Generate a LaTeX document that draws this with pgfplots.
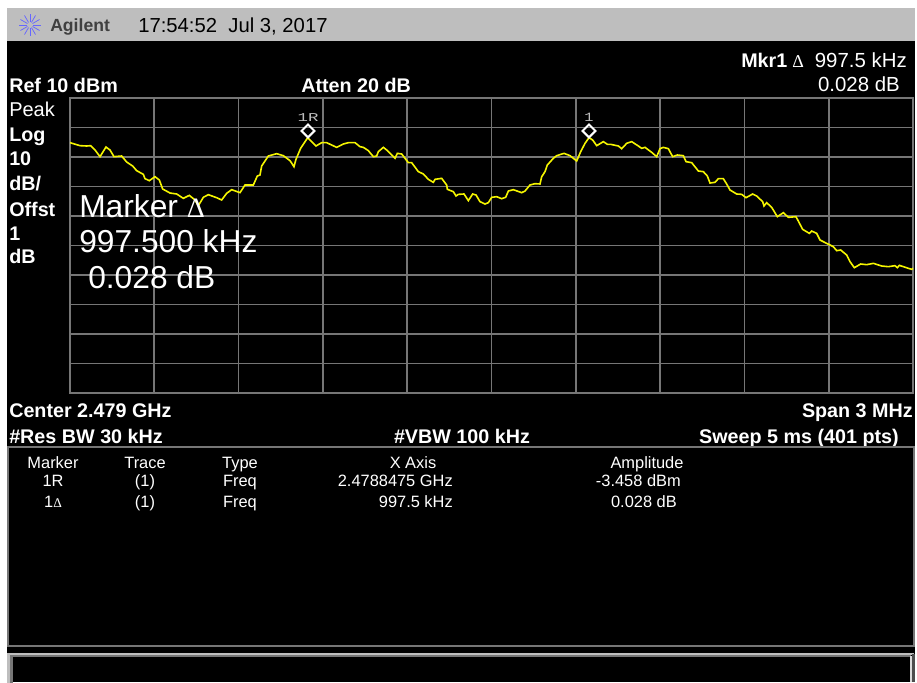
\documentclass[border=0pt]{standalone}
\usepackage{fontspec}
\setmainfont{Liberation Sans}
\newfontfamily\monof{Liberation Mono}
\newfontfamily\serf{Liberation Serif}
\usepackage{pgfplots}
\pgfplotsset{compat=1.18}
\usepackage{pgfplotstable}
\definecolor{gridc}{RGB}{118,118,118}
\definecolor{barc}{RGB}{190,190,190}
\definecolor{trc}{RGB}{245,245,0}
\pgfplotstableread{
f v
0.0000 -5.14
0.0356 -6.16
0.0593 -6.27
0.0735 -6.16
0.0890 -7.63
0.1068 -9.89
0.1281 -6.61
0.1423 -7.63
0.1566 -9.89
0.1838 -9.66
0.2016 -11.70
0.2230 -13.05
0.2372 -14.63
0.2610 -15.88
0.2669 -17.35
0.2823 -18.02
0.3025 -16.67
0.3179 -17.80
0.3298 -20.85
0.3559 -22.21
0.3796 -22.54
0.4033 -24.01
0.4247 -23.00
0.4448 -24.58
0.4567 -26.50
0.4745 -23.67
0.4923 -22.77
0.5219 -23.79
0.5397 -24.58
0.5575 -22.32
0.5753 -21.08
0.6050 -22.09
0.6228 -19.49
0.6524 -19.49
0.6666 -16.44
0.6761 -16.10
0.6821 -13.05
0.7058 -9.66
0.7355 -8.87
0.7592 -9.55
0.7829 -11.24
0.7971 -13.28
0.8042 -10.79
0.8208 -7.06
0.8460 -3.45
0.8541 -4.24
0.8754 -6.27
0.8956 -5.14
0.9134 -5.14
0.9490 -6.73
0.9727 -5.60
0.9905 -5.14
1.0142 -5.14
1.0320 -6.50
1.0439 -6.73
1.0617 -7.85
1.0795 -9.89
1.0914 -9.66
1.0973 -8.19
1.1151 -6.73
1.1270 -7.63
1.1566 -10.45
1.1649 -8.76
1.1803 -8.98
1.2041 -11.92
1.2159 -11.92
1.2397 -14.97
1.2575 -15.76
1.2752 -17.57
1.2930 -18.59
1.2990 -17.57
1.3227 -17.23
1.3405 -19.49
1.3429 -20.96
1.3642 -21.75
1.3737 -23.22
1.3820 -22.66
1.4022 -22.54
1.4176 -24.80
1.4330 -22.54
1.4449 -22.88
1.4591 -25.14
1.4769 -25.93
1.4888 -25.48
1.5006 -23.67
1.5184 -23.45
1.5362 -24.13
1.5505 -23.67
1.5600 -21.53
1.5777 -21.08
1.6074 -22.09
1.6193 -21.53
1.6371 -19.49
1.6549 -19.04
1.6726 -19.15
1.6786 -16.67
1.6904 -14.97
1.6987 -12.71
1.7201 -10.45
1.7320 -9.55
1.7581 -8.76
1.7794 -9.55
1.8031 -11.36
1.8173 -8.19
1.8328 -5.37
1.8470 -3.43
1.8601 -4.24
1.8743 -6.16
1.8980 -4.80
1.9122 -5.71
1.9241 -5.71
1.9514 -6.27
1.9633 -7.18
1.9811 -5.37
1.9988 -4.80
2.0226 -6.27
2.0344 -7.06
2.0463 -6.73
2.0700 -8.42
2.0878 -9.89
2.0996 -7.18
2.1115 -6.73
2.1293 -7.18
2.1447 -9.89
2.1613 -9.32
2.1827 -9.55
2.1922 -11.58
2.2123 -11.92
2.2361 -14.75
2.2539 -14.97
2.2681 -16.44
2.2776 -18.82
2.2954 -18.59
2.3072 -17.35
2.3250 -17.35
2.3369 -19.15
2.3488 -21.19
2.3725 -22.54
2.3903 -22.66
2.4057 -23.79
2.4294 -22.54
2.4436 -23.22
2.4650 -25.14
2.4697 -26.61
2.4792 -25.48
2.4970 -27.06
2.5172 -30.23
2.5385 -28.87
2.5563 -30.45
2.5836 -30.23
2.6073 -34.52
2.6311 -35.88
2.6394 -35.09
2.6572 -35.88
2.6690 -38.14
2.6927 -39.27
2.7165 -40.40
2.7284 -41.75
2.7426 -41.53
2.7639 -43.22
2.7758 -45.48
2.7912 -47.52
2.8138 -46.27
2.8351 -46.50
2.8588 -46.05
2.8885 -46.95
2.9122 -47.18
2.9359 -46.84
2.9442 -47.52
2.9513 -46.73
2.9834 -47.74
2.9953 -48.08
3.0000 -47.74
}\trace
\newcommand\tl[4]{\node[anchor=base west,inner sep=0pt,text=white,font=\fontsize{#1}{#1}\selectfont] at (#2,#3) {#4};}
\newcommand\tr[4]{\node[anchor=base east,inner sep=0pt,text=white,font=\fontsize{#1}{#1}\selectfont] at (#2,#3) {#4};}
\newcommand\tc[4]{\node[anchor=base,inner sep=0pt,text=white,font=\fontsize{#1}{#1}\selectfont] at (#2,#3) {#4};}
\begin{document}
\begin{tikzpicture}[x=0.75pt,y=-0.75pt]
\path[use as bounding box,fill=white] (0,0) rectangle (917,682);
\fill[black] (7,41) rectangle (915,682);
\fill[barc] (7,8) rectangle (915,41);
% logo
\foreach \a in {0,30,...,330}{\draw[blue!60!white,line width=0.55pt] (30,25)++(\a:3) -- ++(\a:8);}
\node[anchor=base west,inner sep=0pt,text=black!75,font=\fontsize{13.2}{13.2}\selectfont\bfseries] at (50,31) {Agilent};
\node[anchor=base west,inner sep=0pt,text=black,font=\fontsize{15.2}{15.2}\selectfont] at (138,32) {17:54:52\ \ Jul 3, 2017};
\begin{axis}[
  at={(52.5pt,-294.75pt)},anchor=south west,
  scale only axis,width=632.25pt,height=221.25pt,
  xmin=0,xmax=3,ymin=-90,ymax=10,
  xtick={0,0.3,...,3.01},ytick={-90,-80,...,10},
  xticklabels={},yticklabels={},
  major tick length=0pt,
  grid=major,
  grid style={gridc,line width=1.3pt},
  axis line style={gridc,line width=1.8pt},
  axis background/.style={fill=black},
  clip=false,
]
\addplot[trc,line width=1.2pt,mark=none] table[x=f,y=v] {\trace};
\addplot[only marks,mark=square,mark size=3.4pt,mark options={white,line width=1.5pt,fill=black,yshift=5pt,rotate=45}] coordinates {(0.847,-3.43) (1.847,-3.43)};
\node[text=barc,font=\monof\fontsize{9}{9}\selectfont,inner sep=0pt,xscale=1.45] at (axis cs:0.847,3.4) {1R};
\node[text=barc,font=\monof\fontsize{9.5}{9.5}\selectfont,inner sep=0pt,xscale=1.2] at (axis cs:1.847,3.4) {1};
\end{axis}
\tl{14.8}{741}{67}{\textbf{Mkr1}}
\tl{13.5}{792}{67}{\serf Δ}
\tr{15.3}{907}{67}{997.5 kHz}
\tl{14.8}{9}{92}{\textbf{Ref 10 dBm}}
\tl{14.8}{301}{92}{\textbf{Atten 20 dB}}
\tr{15.3}{900}{91}{0.028 dB}
\tl{15}{9}{116}{Peak}
\tl{14.8}{9}{141}{\textbf{Log}}
\tl{14.8}{9}{165}{\textbf{10}}
\tl{14.8}{9}{190}{\textbf{dB/}}
\tl{14.8}{9}{216}{\textbf{Offst}}
\tl{14.8}{9}{240}{\textbf{1}}
\tl{14.8}{9}{263}{\textbf{dB}}
\tl{23.8}{79}{217}{Marker {\serf\fontsize{21}{21}\selectfont Δ}}
\tl{23.8}{79}{252}{997.500 kHz}
\tl{23.8}{88}{288}{0.028 dB}
\tl{14.8}{9}{417}{\textbf{Center 2.479 GHz}}
\tr{14.8}{913}{417}{\textbf{Span 3 MHz}}
\tl{14.8}{9}{443}{\textbf{\#Res BW 30 kHz}}
\tc{14.8}{462}{443}{\textbf{\#VBW 100 kHz}}
\tr{14.8}{899}{443}{\textbf{Sweep 5 ms (401 pts)}}
\draw[gridc,line width=1.5pt] (8,447) rectangle (914,646);
% lower soft-key frame
\draw[gridc,line width=2pt] (11.5,690) -- (11.5,656) -- (911,656);
\draw[barc,line width=2.2pt] (8.5,690) -- (8.5,654) -- (914,654);
\fill[white!85!black] (909.5,656) rectangle (912,682);
\fill[gridc!130!white] (912,654) rectangle (915,682);
\tc{12.3}{53}{468}{Marker}
\tc{12.3}{145}{468}{Trace}
\tc{12.3}{240}{468}{Type}
\tc{12.3}{413}{468}{X Axis}
\tc{12.3}{647}{468}{Amplitude}
\tc{12.3}{53}{486}{1R}
\tc{12.3}{145}{486}{(1)}
\tc{12.3}{240}{486}{Freq}
\tr{12.3}{453}{486}{2.4788475 GHz}
\tr{12.3}{681}{486}{-3.458 dBm}
\node[anchor=base,inner sep=0pt,text=white,font=\fontsize{12.3}{12.3}\selectfont] at (53,507) {1{\serf\fontsize{10}{10}\selectfont Δ}};
\tc{12.3}{145}{507}{(1)}
\tc{12.3}{240}{507}{Freq}
\tr{12.3}{453}{507}{997.5 kHz}
\tr{12.3}{677}{507}{0.028 dB}
\end{tikzpicture}
\end{document}
